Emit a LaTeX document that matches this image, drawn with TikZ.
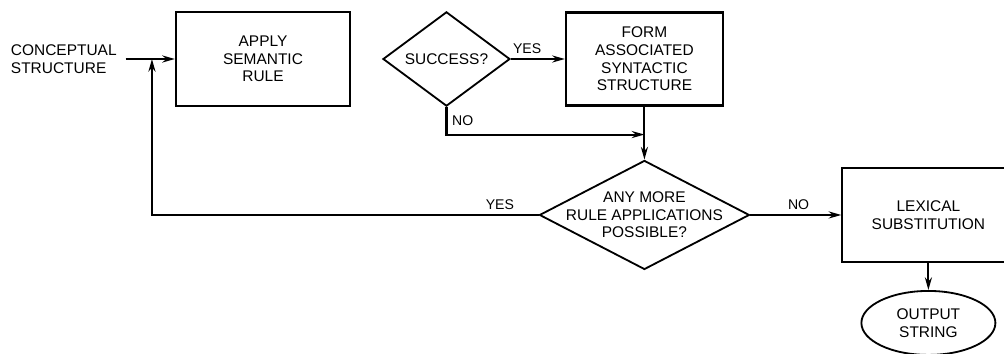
\documentclass[tikz,border=0pt]{standalone}
\usepackage{fontspec}
\setmainfont{Liberation Sans}
\usetikzlibrary{positioning,shapes.geometric,arrows.meta}

\begin{document}
\begin{tikzpicture}[
      every node/.style={font=\fontsize{11}{12.5}\selectfont},
      proc/.style={draw, line width=1.5pt, minimum width=4.35cm, minimum height=2.35cm,
                   align=center},
      test/.style={draw, diamond, line width=1.3pt, inner sep=0pt, align=center},
      term/.style={draw, ellipse, line width=1.3pt, minimum width=3.35cm, minimum height=1.6cm,
                   align=center},
      lbl/.style={font=\fontsize{10}{12}\selectfont},
      arr/.style={-{Stealth[length=9pt,width=5pt]}, line width=1.5pt}
    ]
    \useasboundingbox (-6.575,1.475) rectangle (18.525,-7.35);

    \node[proc] (apply) at (0,0) {APPLY\\SEMANTIC\\RULE};
    \node[test, minimum width=3.175cm, minimum height=2.275cm] (success) [right=0.775cm of apply] {SUCCESS?};
    \node[proc, minimum width=3.925cm, minimum height=2.325cm] (form) [right=1.35cm of success] {FORM\\ASSOCIATED\\SYNTACTIC\\STRUCTURE};
    \node[test, shape aspect=2, inner xsep=-0.6cm, inner ysep=-0.1cm,
          minimum width=5.25cm, minimum height=2.725cm] (more) [below=1.325cm of form] {ANY MORE\\RULE APPLICATIONS\\POSSIBLE?};
    \node[proc, minimum width=4.3cm] (lex) [right=2.275cm of more] {LEXICAL\\SUBSTITUTION};
    \node[term] (out) [below=0.675cm of lex] {OUTPUT\\STRING};
    \node[align=left, inner sep=0pt] (concept) [left=1.45cm of apply] {CONCEPTUAL\\STRUCTURE};
    \coordinate[left=0.575cm of apply.west] (j);
    \coordinate[below=0.7cm of form.south] (merge);

    \draw[line width=1.5pt, shorten <=0.22cm] (concept) -- (j);
    \draw[arr] (j) -- (apply);
    \draw[arr] (success) -- node[lbl, above, pos=0.3] {YES} (form);
    \draw[arr] (success.south) |- node[lbl, right, pos=0.25] {NO} (merge);
    \draw[arr] (form) -- (more);
    \draw[arr] (more.west) -| node[lbl, above, pos=0.05] {YES} (j);
    \draw[arr] (more) -- node[lbl, above, pos=0.53] {NO} (lex);
    \draw[arr] (lex) -- (out);
  \end{tikzpicture}
\end{document}
